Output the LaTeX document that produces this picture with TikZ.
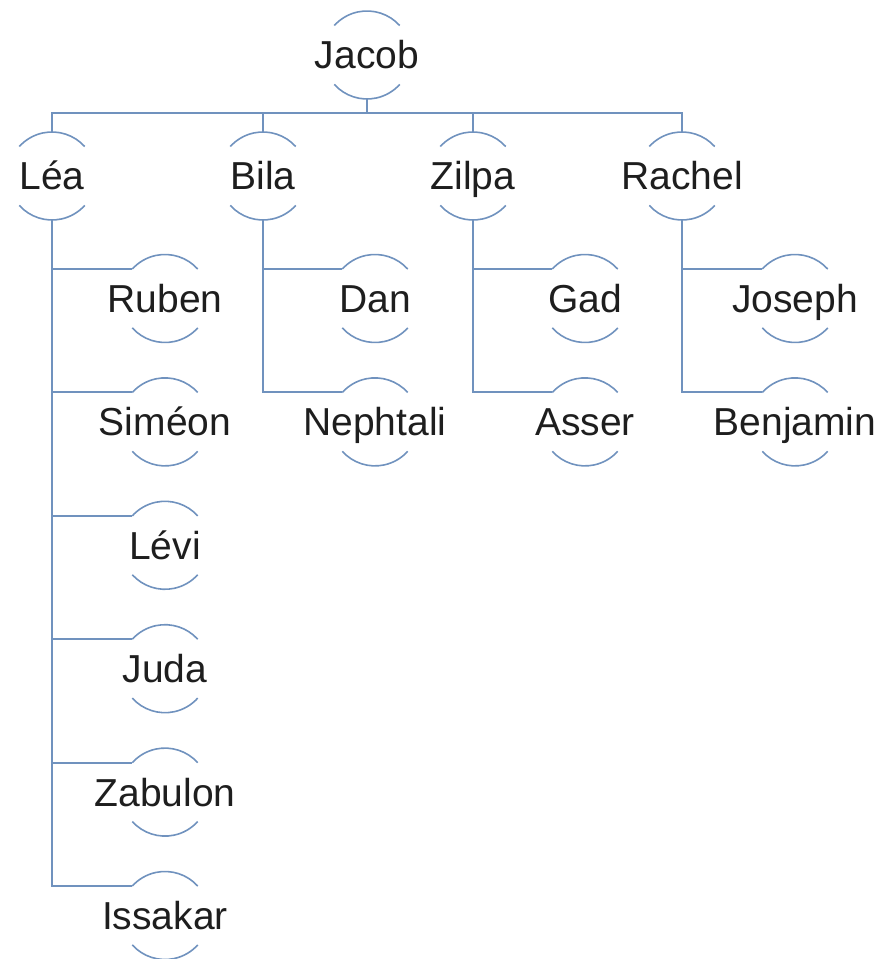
\documentclass[tikz,border=0pt]{standalone}
\usepackage{fontspec}
\setmainfont{Liberation Sans}
\usetikzlibrary{calc}
\definecolor{lc}{RGB}{112,146,190}
\definecolor{tc}{RGB}{30,30,30}
\tikzset{
  person/.style={font=\fontsize{39}{47}\selectfont, text=tc, inner sep=0pt, text height=28pt, text depth=0pt},
  link/.style={draw=lc, line width=2pt},
  rim/.style={draw=lc, line width=1.6pt}
}
\begin{document}
\begin{tikzpicture}[x=1pt,y=1pt]
\useasboundingbox (0,0) rectangle (881,959);
% nodes
\node[person] (jacob) at (367,904) {Jacob};
\node[person] (lea) at (52,783) {Léa};
\node[person] (bila) at (263,783) {Bila};
\node[person] (zilpa) at (473,783) {Zilpa};
\node[person] (rachel) at (682,783) {Rachel};
\node[person] (ruben) at (165,660.5) {Ruben};
\node[person] (simeon) at (165,537.1) {Siméon};
\node[person] (levi) at (165,413.7) {Lévi};
\node[person] (juda) at (165,290.3) {Juda};
\node[person] (zabulon) at (165,166.9) {Zabulon};
\node[person] (issakar) at (165,43.5) {Issakar};
\node[person] (dan) at (375,660.5) {Dan};
\node[person] (nephtali) at (375,537.1) {Nephtali};
\node[person] (gad) at (585,660.5) {Gad};
\node[person] (asser) at (585,537.1) {Asser};
\node[person] (joseph) at (795,660.5) {Joseph};
\node[person] (benjamin) at (795,537.1) {Benjamin};
% arcs
\foreach \n in {jacob,lea,bila,zilpa,rachel,ruben,simeon,levi,juda,zabulon,issakar,dan,nephtali,gad,asser,joseph,benjamin}{
  \draw[rim] ($(\n.center)+(42:44)$) arc[start angle=42,end angle=138,radius=44];
  \draw[rim] ($(\n.center)+(222:44)$) arc[start angle=222,end angle=318,radius=44];
}
% bus
\coordinate (bus) at ($(jacob.center)+(0,-58.5)$);
\draw[link] ($(jacob.center)+(0,-44)$) -- (bus);
\draw[link] ($(lea.center)+(0,44)$) -- (lea.center |- bus) -- (rachel.center |- bus) -- ($(rachel.center)+(0,44)$);
\draw[link] ($(bila.center)+(0,44)$) -- (bila.center |- bus);
\draw[link] ($(zilpa.center)+(0,44)$) -- (zilpa.center |- bus);
% children
\foreach \p/\c in {lea/ruben,lea/simeon,lea/levi,lea/juda,lea/zabulon,lea/issakar,bila/dan,bila/nephtali,zilpa/gad,zilpa/asser,rachel/joseph,rachel/benjamin}{
  \draw[link] ($(\p.center)+(0,-44)$) |- ($(\c.center)+(138:44)$);
}
\end{tikzpicture}
\end{document}
